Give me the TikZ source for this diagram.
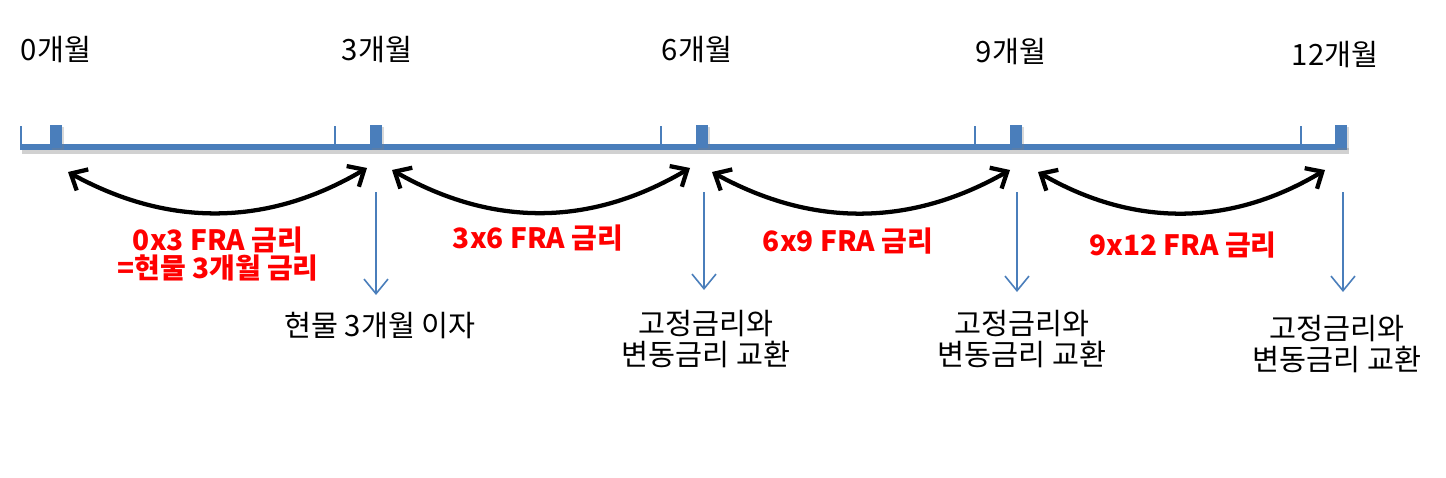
\documentclass[tikz,border=0pt]{standalone}
\usepackage{fontspec}
\setmainfont{Noto Sans CJK KR}
\usetikzlibrary{arrows.meta,shadows}
\definecolor{lineblue}{HTML}{4A7EBB}
\definecolor{frared}{HTML}{FF0000}
\tikzset{
  monthbox/.style={fill=lineblue, minimum width=9pt, minimum height=17pt,
    inner sep=0pt, anchor=south,
    drop shadow={opacity=0.3, shadow xshift=1.5pt, shadow yshift=-1.5pt}},
  monthlabel/.style={font=\fontsize{22}{26}\selectfont},
  fralabel/.style={text=frared, align=center, font=\fontsize{21}{21}\bfseries\selectfont},
  cashlabel/.style={align=center, anchor=north, font=\fontsize{22}{23}\selectfont},
  swing/.style={line width=3.2pt, {Straight Barb[length=10pt,width=18pt]}-{Straight Barb[length=10pt,width=18pt]}},
  payarrow/.style={lineblue, line width=1.2pt, -{Straight Barb[length=11pt,width=18pt,line width=1.2pt]}}
}
\begin{document}
\begin{tikzpicture}[x=0.75pt, y=-0.75pt]
\useasboundingbox (0,0) rectangle (1446,478);
% time line
\draw[black, opacity=0.18, line width=4.5pt] (22,151) -- (1349,151);
\draw[lineblue, line width=4.5pt] (20,147) -- (1347,147);
\foreach \x in {21,335,661,975,1301}
  \draw[lineblue, line width=1pt] (\x,126) -- (\x,150);
% month marks
\node[monthbox] (m0) at (56,148) {};
\node[monthbox] (m3) at (376,148) {};
\node[monthbox] (m6) at (702,148) {};
\node[monthbox] (m9) at (1016,148) {};
\node[monthbox] (m12) at (1341,148) {};
\node[monthlabel] (t0) at (56,50) {0개월};
\node[monthlabel] (t3) at (377,50) {3개월};
\node[monthlabel] (t6) at (697,50) {6개월};
\node[monthlabel] (t9) at (1011,52) {9개월};
\node[monthlabel] (t12) at (1335,55) {12개월};
% FRA periods
\coordinate (a0) at (68,172);  \coordinate (b3) at (367,168);
\coordinate (a3) at (392,170); \coordinate (b6) at (690,168);
\coordinate (a6) at (712,172); \coordinate (b9) at (1010,170);
\coordinate (a9) at (1038,172); \coordinate (b12) at (1325,170);
\draw[swing] (a0) .. controls +(100,55) and +(-100,59) .. (b3);
\draw[swing] (a3) .. controls +(100,57) and +(-100,59) .. (b6);
\draw[swing] (a6) .. controls +(100,55) and +(-100,57) .. (b9);
\draw[swing] (a9) .. controls +(95,55) and +(-95,57) .. (b12);
\node[fralabel] (f0) at (218,254) {0x3 FRA 금리\\=현물 3개월 금리};
\node[fralabel] (f3) at (538,238) {3x6 FRA 금리};
\node[fralabel] (f6) at (848,241) {6x9 FRA 금리};
\node[fralabel] (f9) at (1183,245) {9x12 FRA 금리};
% cash flows
\node[cashlabel] (c3) at (380,308) {현물 3개월 이자};
\node[cashlabel] (c6) at (706,306) {고정금리와\\변동금리 교환};
\node[cashlabel] (c9) at (1022,306) {고정금리와\\변동금리 교환};
\node[cashlabel] (c12) at (1337,311) {고정금리와\\변동금리 교환};
\coordinate (d3) at (376,192);
\coordinate (d6) at (704,192);
\coordinate (d9) at (1017,192);
\coordinate (d12) at (1343,192);
\draw[payarrow] (d3) -- (d3 |- 0,295);
\draw[payarrow] (d6) -- (d6 |- 0,290);
\draw[payarrow] (d9) -- (d9 |- 0,292);
\draw[payarrow] (d12) -- (d12 |- 0,292);
\end{tikzpicture}
\end{document}
